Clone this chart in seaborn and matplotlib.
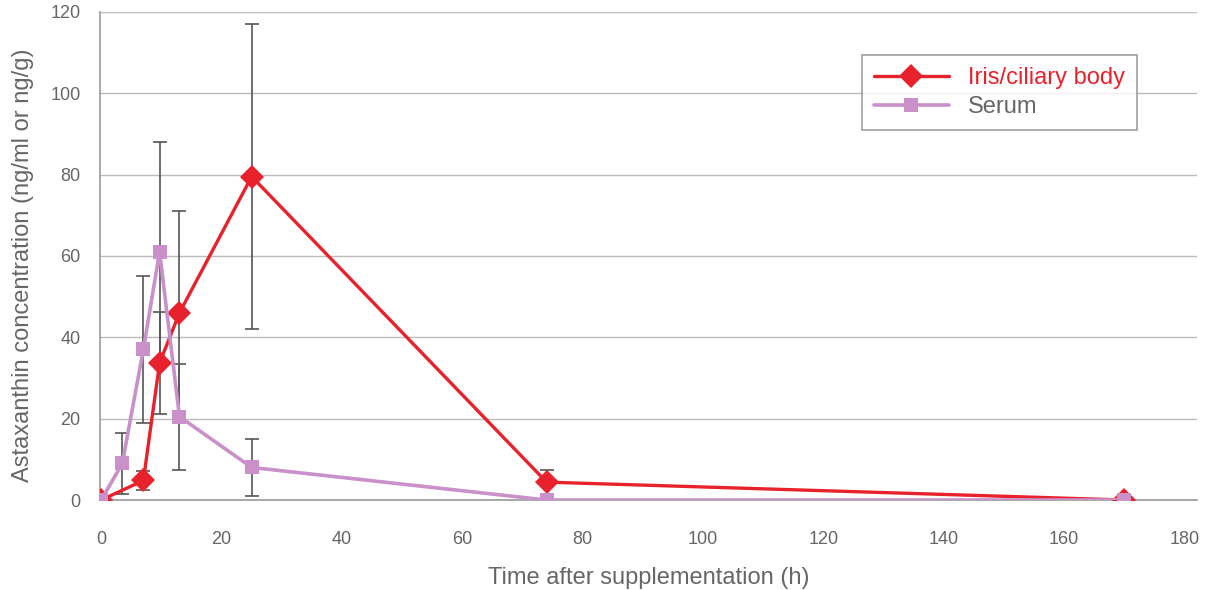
import numpy as np
import pandas as pd
import seaborn as sns
import matplotlib
matplotlib.use("Agg")
import matplotlib.pyplot as plt

# data
time_iris = [0, 7, 9.7, 13, 25, 74, 170]
iris_conc = [0, 4.8, 33.7, 46, 79.5, 4.4, 0]
iris_err = [0, 2.3, 12.5, 25, 37.5, 3, 0]

time_serum = [0, 3.5, 7, 9.7, 13, 25, 74, 170]
serum_conc = [0, 9, 37, 61, 20.5, 8, 0, 0]
serum_err = [0, 7.5, 18, 27, 13, 7, 0, 0]

x_ticks = [0, 20, 40, 60, 80, 100, 120, 140, 160, 180]
y_ticks = [0, 20, 40, 60, 80, 100, 120]

red = "#e8222c"
purple = "#c990c9"
grey_text = "#666666"

sns.set_style("white")
plt.rcParams["font.family"] = ["Liberation Sans", "DejaVu Sans"]

df = pd.concat([
    pd.DataFrame({"time": time_serum, "conc": serum_conc, "series": "Serum"}),
    pd.DataFrame({"time": time_iris, "conc": iris_conc, "series": "Iris/ciliary body"}),
])

fig = plt.figure(figsize=(12.05, 5.9), dpi=100)
ax = fig.add_axes([0.083, 0.1525, 0.91, 0.8275])

# error bars first so the markers sit on top
ax.errorbar(time_serum, serum_conc, yerr=serum_err, fmt="none", ecolor="#555555",
            elinewidth=1.2, capsize=5, capthick=1.2, zorder=2)
ax.errorbar(time_iris, iris_conc, yerr=iris_err, fmt="none", ecolor="#555555",
            elinewidth=1.2, capsize=5, capthick=1.2, zorder=2)

sns.lineplot(data=df[df.series == "Iris/ciliary body"], x="time", y="conc", color=red,
             marker="D", markersize=12, markeredgewidth=0, linewidth=2.4,
             label="Iris/ciliary body", ax=ax, zorder=3)
sns.lineplot(data=df[df.series == "Serum"], x="time", y="conc", color=purple,
             marker="s", markersize=10, markeredgewidth=0, linewidth=2.6,
             label="Serum", ax=ax, zorder=4)

ax.set_xlim(-0.2, 182)
ax.set_ylim(0, 120)
ax.set_xticks(x_ticks)
ax.set_yticks(y_ticks)
ax.yaxis.grid(True, color="#bbbbbb", linewidth=1)
ax.xaxis.grid(False)
for side in ["top", "right"]:
    ax.spines[side].set_visible(False)
for side in ["left", "bottom"]:
    ax.spines[side].set_color("#999999")
    ax.spines[side].set_linewidth(1.2)
ax.tick_params(axis="x", colors=grey_text, labelsize=13, length=0, pad=22)
ax.tick_params(axis="y", colors=grey_text, labelsize=13, length=0, pad=14)

ax.set_xlabel("Time after supplementation (h)", fontsize=17, color=grey_text, labelpad=14)
ax.set_ylabel("Astaxanthin concentration (ng/ml or ng/g)", fontsize=17, color=grey_text)
ax.yaxis.set_label_coords(-0.06, 0.48)

leg = ax.legend(loc="upper left", bbox_to_anchor=(0.684, 0.935), fontsize=17,
                frameon=True, fancybox=False, edgecolor="#888888",
                borderpad=0.5, handlelength=3.2, labelspacing=0.3)
leg.get_frame().set_linewidth(1.2)
leg.get_texts()[0].set_color(red)
leg.get_texts()[1].set_color(grey_text)

fig.savefig("out.png", dpi=100)
